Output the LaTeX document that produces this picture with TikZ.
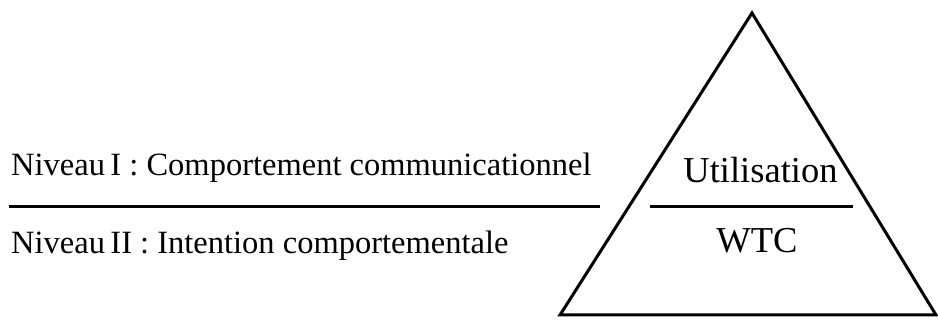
\documentclass[tikz,border=0pt]{standalone}
\usepackage{fontspec}
\setmainfont{Liberation Serif}
\begin{document}
\begin{tikzpicture}[x=1pt,y=-1pt,
  lbl/.style={inner sep=0pt,font=\fontsize{32.5}{36}\selectfont},
  tri lbl/.style={inner sep=0pt,font=\fontsize{36.5}{40}\selectfont},
  thick line/.style={line width=3pt}]
\useasboundingbox (0,0) rectangle (938,320);
% left text and separator
\node[lbl,anchor=base west] (n1) at (11,176) {Niveau\,I : Comportement communicationnel};
\node[lbl,anchor=base west] (n2) at (11,254) {Niveau\,II : Intention comportementale};
\coordinate (l1) at (9,207);
\coordinate (l2) at (600,207);
\draw[thick line] (l1) -- (l2);
% triangle
\coordinate (apex) at (752,13);
\coordinate (bl) at (560,315);
\coordinate (br) at (936,315);
\draw[thick line,line join=miter] (apex) -- (bl) -- (br) -- cycle;
% inner
\node[tri lbl,anchor=base] (u) at (760.5,183) {Utilisation};
\node[tri lbl,anchor=base] (w) at (757,253) {WTC};
\coordinate (i1) at (650,207);
\coordinate (i2) at (853,207);
\draw[thick line] (i1) -- (i2);
\end{tikzpicture}
\end{document}
